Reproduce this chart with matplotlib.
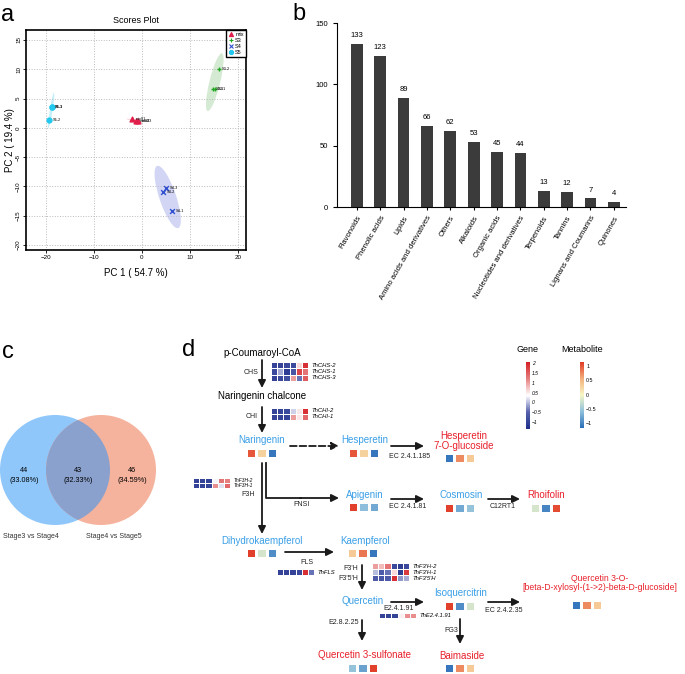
import numpy as np
import matplotlib
matplotlib.use('Agg')
import matplotlib.pyplot as plt
from matplotlib.patches import Ellipse, Circle
from matplotlib.colors import LinearSegmentedColormap, Normalize
from matplotlib.lines import Line2D
import matplotlib.colorbar as mcolorbar

W, H = 685, 674

# ---------------- data ----------------
# a: PCA scores
pca_groups = ['mix', 'S3', 'S4', 'S5']
pca_x = {'mix': [-1.95, -1.1, -0.8], 'S3': [16.0, 14.8, 15.2],
         'S4': [5.1, 4.5, 6.3], 'S5': [-18.75, -18.7, -19.25]}
pca_y = {'mix': [1.45, 1.25, 1.15], 'S3': [10.1, 6.7, 6.6],
         'S4': [-10.2, -10.9, -14.2], 'S5': [3.6, 3.6, 1.4]}
pca_names = {'mix': ['mix01', 'mix02', 'mix03'], 'S3': ['S3-2', 'S3-3', 'S3-1'],
             'S4': ['S4-3', 'S4-2', 'S4-1'], 'S5': ['S5-3', 'S5-1', 'S5-2']}
# confidence ellipses: centre x, centre y, full length, full width, angle
pca_ell = {'mix': (-1.5, 1.2, 3.5, 0.3, -12), 'S3': (15.2, 7.8, 10.3, 2.2, 73),
           'S4': (5.4, -11.8, 11.5, 3.4, -67), 'S5': (-18.87, 2.97, 6.2, 0.6, 79)}

# b: metabolite classes
classes = ['Flavonoids', 'Phenolic acids', 'Lipids', 'Amino acids and derivatives',
           'Others', 'Alkaloids', 'Organic acids', 'Nucleotides and derivatives',
           'Terpenoids', 'Tannins', 'Lignans and Coumarins', 'Quinones']
counts = [133, 123, 89, 66, 62, 53, 45, 44, 13, 12, 7, 4]

# c: venn
venn_counts = [44, 43, 46]
venn_pcts = ['33.08%', '32.33%', '34.59%']
venn_sets = ['Stage3 vs Stage4', 'Stage4 vs Stage5']

# d: metabolite z-scores (3 stages)
met_vals = {
    'Naringenin': [1.0, 0.3, -1.1],
    'Hesperetin': [1.0, 0.3, -1.1],
    'Hesperetin 7-O-glucoside': [-1.1, 0.75, 0.35],
    'Apigenin': [1.1, -0.6, -0.75],
    'Cosmosin': [1.1, -0.75, -0.55],
    'Rhoifolin': [-0.2, -1.0, 1.05],
    'Dihydrokaempferol': [1.1, -0.2, -0.95],
    'Kaempferol': [0.35, 0.85, -1.1],
    'Isoquercitrin': [1.1, -0.95, -0.2],
    'Quercetin 3-O-xyl-glc': [-1.1, 0.75, 0.35],
    'Quercetin 3-sulfonate': [-0.55, -0.8, 1.1],
    'Baimaside': [-1.1, 0.75, 0.35],
}
# d: gene expression z-scores (6 samples)
gene_vals = {
    'CHS': [[-1, -1, -0.9, -0.9, 0.6, 1.9],
            [-0.9, -0.1, -1.1, -0.7, 1.7, 1.3],
            [-1, -0.9, -0.8, 1.0, -0.4, 1.5]],
    'CHI': [[-1, -1, -0.9, 0.1, 0.5, 1.9],
            [-1, -1, -1, 1.0, 0.5, 1.4]],
    'F3H': [[-1, -1, -1, 0.3, 1.3, 1.2],
            [-1, -1, -1, 1.1, 0.2, 1.4]],
    'FLS': [[-1, -1, -1, -0.9, 1.9, -0.4]],
    "F3'H": [[1.0, 0.8, 1.3, -0.9, -1.1, -0.9],
             [0.0, -0.6, -0.4, 0.6, -1.1, 1.8],
             [-0.6, -0.7, -0.6, 1.9, -0.2, -0.1]],
    'E2.4.1.91': [[-1, -1, -1, 0.45, 1.1, 1.1]],
}
gene_names = {
    'CHS': ['ThCHS-2', 'ThCHS-1', 'ThCHS-3'],
    'CHI': ['ThCHI-2', 'ThCHI-1'],
    'F3H': ['ThF3H-2', 'ThF3H-1'],
    'FLS': ['ThFLS'],
    "F3'H": ["ThF3'H-2", "ThF3'H-1", "ThF3'5'H"],
    'E2.4.1.91': ['ThE2.4.1.91'],
}


def px(x0, y0, x1, y1):
    return [x0 / W, 1 - y1 / H, (x1 - x0) / W, (y1 - y0) / H]


fig = plt.figure(figsize=(6.85, 6.74), dpi=100)
plt.rcParams['font.family'] = ['Liberation Sans', 'DejaVu Sans']

# overlay axes in pixel coordinates
ov = fig.add_axes([0, 0, 1, 1])
ov.set_xlim(0, W)
ov.set_ylim(H, 0)
ov.axis('off')

for lab, (x, y) in zip('abcd', [(1, 15), (292, 14), (2, 352), (182, 350)]):
    ov.text(x, y, lab, fontsize=17, va='center', ha='left')

# ---------------- a ----------------
ax = fig.add_axes(px(26, 30, 246, 250))
colors = {'mix': '#e0204a', 'S3': '#22a722', 'S4': '#3050d0', 'S5': '#22c8ee'}
fills = {'mix': '#f7b8c6', 'S3': '#b9ddb5', 'S4': '#b4bcee', 'S5': '#9fe6f5'}
markers = {'mix': '^', 'S3': '+', 'S4': 'x', 'S5': 'o'}
for g in pca_groups:
    cx, cy, ln, wd, ang = pca_ell[g]
    ax.add_patch(Ellipse((cx, cy), ln, wd, angle=ang, color=fills[g], alpha=0.6, lw=0))
for g in pca_groups:
    ax.scatter(pca_x[g], pca_y[g], marker=markers[g], s=12, color=colors[g], lw=1, zorder=3)
    for xx, yy, nm in zip(pca_x[g], pca_y[g], pca_names[g]):
        ax.text(xx + 0.7, yy, nm, fontsize=2.8, va='center', zorder=4)
ax.set_xlim(-24.1, 21.7)
ax.set_ylim(-20.85, 16.7)
ax.set_xticks([-20, -10, 0, 10, 20])
ax.set_yticks([-20, -15, -10, -5, 0, 5, 10, 15])
ax.tick_params(labelsize=4.5, length=2, width=0.6, pad=1.5)
for t in ax.get_yticklabels():
    t.set_rotation(90)
    t.set_va('center')
ax.grid(True, ls=':', color='#bbbbbb', lw=0.7)
for s in ax.spines.values():
    s.set_linewidth(1.2)
ax.set_title('Scores Plot', fontsize=6.5, pad=5)
ax.set_xlabel('PC 1 ( 54.7 %)', fontsize=7, labelpad=6)
ax.set_ylabel('PC 2 ( 19.4 %)', fontsize=7, labelpad=1)
handles = [Line2D([], [], ls='', marker=markers[g], color=colors[g], ms=3, mew=0.8) for g in pca_groups]
leg = ax.legend(handles, pca_groups, loc='upper right', bbox_to_anchor=(1, 1), borderaxespad=0,
                fontsize=4, handlelength=0.8, handletextpad=0.4, labelspacing=0.15,
                borderpad=0.4, fancybox=False, framealpha=1)
leg.get_frame().set_edgecolor('black')
leg.get_frame().set_linewidth(1)

# ---------------- b ----------------
bx = fig.add_axes(px(337, 23, 626, 207))
xpos = np.arange(len(classes))
bx.bar(xpos, counts, width=0.5, color='#3b3b3b')
for xx, c in zip(xpos, counts):
    bx.text(xx, c + 4, str(c), ha='center', va='bottom', fontsize=5.5)
bx.set_xlim(-0.85, 11.52)
bx.set_ylim(0, 150)
bx.set_yticks([0, 50, 100, 150])
bx.set_xticks(xpos)
bx.set_xticklabels(classes, rotation=60, ha='right', rotation_mode='anchor', fontsize=5.5)
bx.tick_params(labelsize=5.5, length=3, width=0.8)
bx.tick_params(axis='x', length=2)
bx.spines['top'].set_visible(False)
bx.spines['right'].set_visible(False)

# ---------------- c ----------------
left = Circle((55, 470), 55, color='#8fc7fb', lw=0)
right = Circle((101, 470), 55, color='#f5b39d', lw=0)
ov.add_patch(left)
ov.add_patch(right)
inter = Circle((55, 470), 55, color='#8aa1cd', lw=0)
ov.add_patch(inter)
inter.set_clip_path(right)
for xx, n, p in zip([24, 78, 132], venn_counts, venn_pcts):
    ov.text(xx, 470, str(n), ha='center', va='center', fontsize=5.2)
    ov.text(xx, 481, '(' + p + ')', ha='center', va='center', fontsize=5.2)
ov.text(31, 536, venn_sets[0], ha='center', va='center', fontsize=5, color='#333333')
ov.text(114, 536, venn_sets[1], ha='center', va='center', fontsize=5, color='#333333')

# ---------------- d ----------------
gene_cmap = LinearSegmentedColormap.from_list('gene', ['#1d2f8a', '#5561ad', '#ffffff', '#e68080', '#d41e24'])
gene_norm = Normalize(-1.35, 2.05)
met_cmap = LinearSegmentedColormap.from_list('met', ['#2a6db8', '#8ec0dc', '#f6f7c4', '#f4b07c', '#e03a26'])
met_norm = Normalize(-1.17, 1.14)

blue_t = '#3a9fe6'
red_t = '#e8202a'


def heat(x0, y0, vals, cw, ch, cmap, norm, lw):
    vals = np.array(vals, dtype=float)
    nr, nc = vals.shape
    X = x0 + cw * np.arange(nc + 1)
    Y = y0 + ch * np.arange(nr + 1)
    ov.pcolormesh(X, Y, vals, cmap=cmap, norm=norm, edgecolors='white', linewidth=lw)


met_pos = {
    'Naringenin': (246, 448), 'Hesperetin': (348, 448), 'Hesperetin 7-O-glucoside': (444, 453),
    'Apigenin': (348, 502), 'Cosmosin': (444, 503), 'Rhoifolin': (530, 503),
    'Dihydrokaempferol': (246, 548), 'Kaempferol': (347, 548), 'Isoquercitrin': (444, 601),
    'Quercetin 3-O-xyl-glc': (571, 600), 'Quercetin 3-sulfonate': (347, 663), 'Baimaside': (444, 663),
}
for k, (x0, y0) in met_pos.items():
    heat(x0, y0, [met_vals[k]], 10.4, 10, met_cmap, met_norm, 0.8)

names = [
    (262, 353, 'p-Coumaroyl-CoA', 'black', 7), (262, 396, 'Naringenin chalcone', 'black', 7),
    (262, 440, 'Naringenin', blue_t, 7), (365, 440, 'Hesperetin', blue_t, 7),
    (464, 441, 'Hesperetin\n7-O-glucoside', red_t, 7), (365, 495, 'Apigenin', blue_t, 7),
    (461, 495, 'Cosmosin', blue_t, 7), (546, 495, 'Rhoifolin', red_t, 7),
    (262, 541, 'Dihydrokaempferol', blue_t, 7), (365, 541, 'Kaempferol', blue_t, 7),
    (363, 601, 'Quercetin', blue_t, 7), (461, 593, 'Isoquercitrin', blue_t, 7),
    (600, 583, 'Quercetin 3-O-\n[beta-D-xylosyl-(1->2)-beta-D-glucoside]', red_t, 6.2),
    (365, 655, 'Quercetin 3-sulfonate', red_t, 7), (462, 656, 'Baimaside', red_t, 7),
]
for x, y, s, c, fs in names:
    ov.text(x, y, s, color=c, fontsize=fs, ha='center', va='center', linespacing=0.95)

arrows = [
    ((262, 360), (262, 388), '-'), ((262, 407), (262, 433), '-'),
    ((290, 446), (339, 446), '--'), ((391, 446), (424, 446), '-'),
    ((262, 463), (262, 534), '-'), ((300, 498), (339, 498), '-'),
    ((391, 499), (424, 499), '-'), ((488, 499), (520, 499), '-'),
    ((285, 552), (334, 552), '-'), ((362, 565), (362, 590), '-'),
    ((391, 602), (424, 602), '-'), ((488, 602), (520, 602), '-'),
    ((362, 620), (362, 641), '-'), ((460, 619), (460, 644), '-'),
]
for (x0, y0), (x1, y1), ls in arrows:
    ov.annotate('', xy=(x1, y1), xytext=(x0, y0),
                arrowprops=dict(arrowstyle='-|>', lw=1.3, ls=ls, color='#1a1a1a',
                                mutation_scale=11, shrinkA=0, shrinkB=0))
ov.plot([266, 266, 301], [463, 498, 498], color='#1a1a1a', lw=1.3)

enz = [
    (251, 372, 'CHS', 'center'), (252, 417, 'CHI', 'center'), (410, 456, 'EC 2.4.1.185', 'center'),
    (248, 494, 'F3H', 'center'), (302, 505, 'FNSI', 'center'), (408, 507, 'EC 2.4.1.81', 'center'),
    (503, 507, 'C12RT1', 'center'), (307, 562, 'FLS', 'center'), (358, 569, "F3'H", 'right'),
    (358, 579, "F3'5'H", 'right'), (399, 608, 'E2.4.1.91', 'center'), (504, 610, 'EC 2.4.2.35', 'center'),
    (344, 623, 'E2.8.2.25', 'center'), (451, 630, 'FG3', 'center'),
]
for x, y, s, ha in enz:
    ov.text(x, y, s, fontsize=5, ha=ha, va='center', color='#222222')

gene_pos = {'CHS': (271, 362, 6.3, 4.2), 'CHI': (271, 408, 6.0, 4.2), 'F3H': (193, 478, 4.8, 3.5),
            'FLS': (277, 569, 6.0, 4.2), "F3'H": (372, 563, 6.1, 4.2), 'E2.4.1.91': (379, 613, 5.2, 4.2)}
for k, (x0, y0, ch, fs) in gene_pos.items():
    vals = gene_vals[k]
    heat(x0, y0, vals, 6.2, ch, gene_cmap, gene_norm, 0.4)
    for i, nm in enumerate(gene_names[k]):
        ov.text(x0 + 6.2 * 6 + 3, y0 + ch * (i + 0.5), nm, fontsize=fs, style='italic',
                ha='left', va='center')

# colour keys
ov.text(528, 349, 'Gene', fontsize=6.5, ha='center', va='center')
ov.text(582, 349, 'Metabolite', fontsize=6.5, ha='center', va='center')
gcax = fig.add_axes(px(526, 362, 530, 429))
cb = mcolorbar.ColorbarBase(gcax, cmap=gene_cmap, norm=gene_norm)
cb.set_ticks([2, 1.5, 1, 0.5, 0, -0.5, -1])
cb.set_ticklabels(['2', '1.5', '1', '0.5', '0', '\u22120.5', '\u22121'])
gcax.tick_params(labelsize=3.6, length=0, pad=1.5)
for t in gcax.get_yticklabels():
    t.set_style('italic')
cb.outline.set_visible(False)
mcax = fig.add_axes(px(580, 362, 584, 428))
cb2 = mcolorbar.ColorbarBase(mcax, cmap=met_cmap, norm=met_norm)
cb2.set_ticks([1, 0.5, 0, -0.5, -1])
cb2.set_ticklabels(['1', '0.5', '0', '\u22120.5', '\u22121'])
mcax.tick_params(labelsize=3.8, length=0, pad=1.5)
cb2.outline.set_visible(False)

fig.savefig('out.png', dpi=100)
